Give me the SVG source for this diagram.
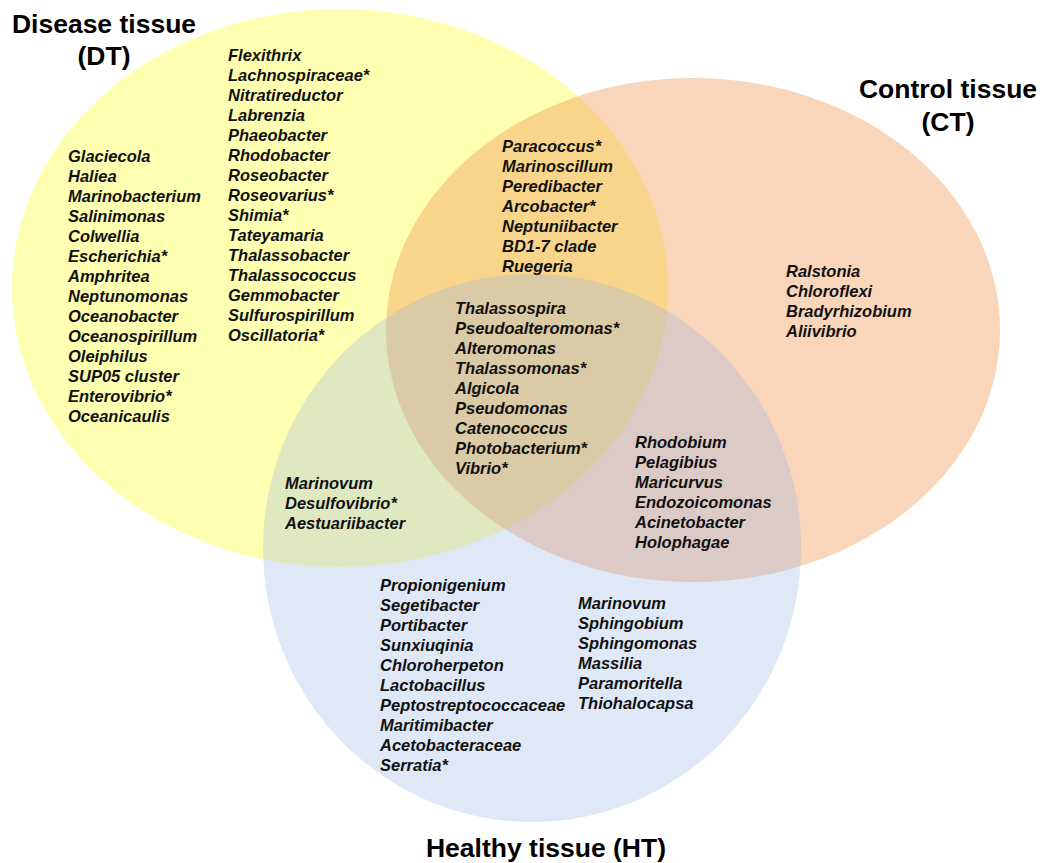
<svg xmlns="http://www.w3.org/2000/svg" width="1053" height="863" viewBox="0 0 1053 863">
<style>
.sp{font-family:"Liberation Sans",Arial,sans-serif;font-size:16.5px;font-weight:bold;font-style:italic;fill:#111}
.ti{font-family:"Liberation Sans",Arial,sans-serif;font-size:26.5px;font-weight:bold;fill:#000;text-anchor:middle}
</style>
<rect width="1053" height="863" fill="#fff"/>
<g id="set-DT"><ellipse cx="340" cy="288" rx="328" ry="279" fill="#ffff00" fill-opacity="0.3"/></g>
<g id="set-CT"><ellipse cx="693" cy="330" rx="307" ry="252" fill="#f09650" fill-opacity="0.4"/></g>
<g id="set-HT"><ellipse cx="532" cy="548" rx="269" ry="274" fill="#96b4e6" fill-opacity="0.3"/></g>

<g id="title-DT" class="ti"><text x="104" y="33">Disease tissue</text><text x="104" y="65">(DT)</text></g>
<g id="title-CT" class="ti"><text x="948" y="98">Control tissue</text><text x="948" y="131">(CT)</text></g>
<g id="title-HT" class="ti"><text x="546" y="857">Healthy tissue (HT)</text></g>

<g id="DT-only-a" class="sp">
<text x="68" y="162">Glaciecola</text>
<text x="68" y="182">Haliea</text>
<text x="68" y="202">Marinobacterium</text>
<text x="68" y="222">Salinimonas</text>
<text x="68" y="242">Colwellia</text>
<text x="68" y="262">Escherichia*</text>
<text x="68" y="282">Amphritea</text>
<text x="68" y="302">Neptunomonas</text>
<text x="68" y="322">Oceanobacter</text>
<text x="68" y="342">Oceanospirillum</text>
<text x="68" y="362">Oleiphilus</text>
<text x="68" y="382">SUP05 cluster</text>
<text x="68" y="402">Enterovibrio*</text>
<text x="68" y="422">Oceanicaulis</text>
</g>
<g id="DT-only-b" class="sp">
<text x="228" y="61">Flexithrix</text>
<text x="228" y="81">Lachnospiraceae*</text>
<text x="228" y="101">Nitratireductor</text>
<text x="228" y="121">Labrenzia</text>
<text x="228" y="141">Phaeobacter</text>
<text x="228" y="161">Rhodobacter</text>
<text x="228" y="181">Roseobacter</text>
<text x="228" y="201">Roseovarius*</text>
<text x="228" y="221">Shimia*</text>
<text x="228" y="241">Tateyamaria</text>
<text x="228" y="261">Thalassobacter</text>
<text x="228" y="281">Thalassococcus</text>
<text x="228" y="301">Gemmobacter</text>
<text x="228" y="321">Sulfurospirillum</text>
<text x="228" y="341">Oscillatoria*</text>
</g>
<g id="DT-CT" class="sp">
<text x="502" y="152">Paracoccus*</text>
<text x="502" y="172">Marinoscillum</text>
<text x="502" y="192">Peredibacter</text>
<text x="502" y="212">Arcobacter*</text>
<text x="502" y="232">Neptuniibacter</text>
<text x="502" y="252">BD1-7 clade</text>
<text x="502" y="272">Ruegeria</text>
</g>
<g id="CT-only" class="sp">
<text x="786" y="277">Ralstonia</text>
<text x="786" y="297">Chloroflexi</text>
<text x="786" y="317">Bradyrhizobium</text>
<text x="786" y="337">Aliivibrio</text>
</g>
<g id="DT-CT-HT" class="sp">
<text x="455" y="314">Thalassospira</text>
<text x="455" y="334">Pseudoalteromonas*</text>
<text x="455" y="354">Alteromonas</text>
<text x="455" y="374">Thalassomonas*</text>
<text x="455" y="394">Algicola</text>
<text x="455" y="414">Pseudomonas</text>
<text x="455" y="434">Catenococcus</text>
<text x="455" y="454">Photobacterium*</text>
<text x="455" y="474">Vibrio*</text>
</g>
<g id="CT-HT" class="sp">
<text x="635" y="448">Rhodobium</text>
<text x="635" y="468">Pelagibius</text>
<text x="635" y="488">Maricurvus</text>
<text x="635" y="508">Endozoicomonas</text>
<text x="635" y="528">Acinetobacter</text>
<text x="635" y="548">Holophagae</text>
</g>
<g id="DT-HT" class="sp">
<text x="285" y="489">Marinovum</text>
<text x="285" y="509">Desulfovibrio*</text>
<text x="285" y="529">Aestuariibacter</text>
</g>
<g id="HT-only-a" class="sp">
<text x="380" y="591">Propionigenium</text>
<text x="380" y="611">Segetibacter</text>
<text x="380" y="631">Portibacter</text>
<text x="380" y="651">Sunxiuqinia</text>
<text x="380" y="671">Chloroherpeton</text>
<text x="380" y="691">Lactobacillus</text>
<text x="380" y="711">Peptostreptococcaceae</text>
<text x="380" y="731">Maritimibacter</text>
<text x="380" y="751">Acetobacteraceae</text>
<text x="380" y="771">Serratia*</text>
</g>
<g id="HT-only-b" class="sp">
<text x="578" y="609">Marinovum</text>
<text x="578" y="629">Sphingobium</text>
<text x="578" y="649">Sphingomonas</text>
<text x="578" y="669">Massilia</text>
<text x="578" y="689">Paramoritella</text>
<text x="578" y="709">Thiohalocapsa</text>
</g>
</svg>
